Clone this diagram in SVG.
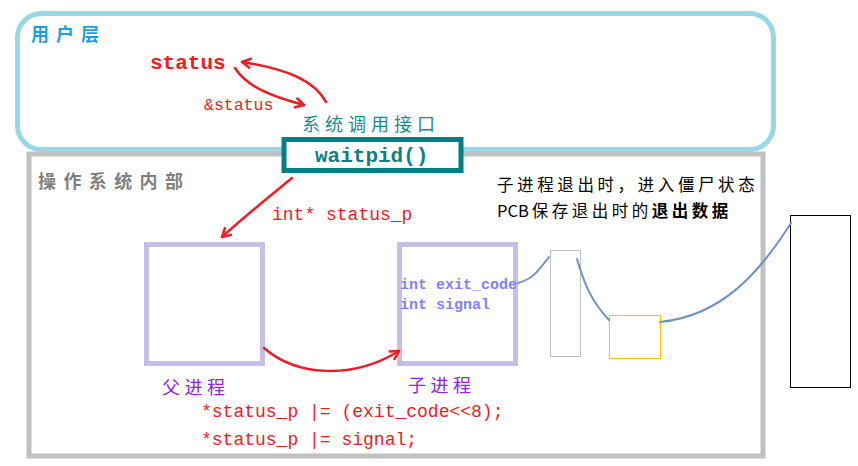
<svg xmlns="http://www.w3.org/2000/svg" width="858" height="466" viewBox="0 0 858 466">
<defs>
<style>
.mono{font-family:"Liberation Mono","DejaVu Sans Mono",monospace}
.cjk{font-family:"Noto Sans CJK SC","Noto Sans CJK JP",sans-serif}
.red{fill:#ee1c24}
.arrow{fill:none;stroke:#ee1c24;stroke-width:2.5;stroke-linecap:round;marker-end:url(#ah)}
.wire{fill:none;stroke:#6f8fc0;stroke-width:2;stroke-linecap:round}
.proc{fill:none;stroke:#c5bee6;stroke-width:5}
</style>
<marker id="ah" viewBox="0 0 12 12" refX="10" refY="6" markerWidth="12" markerHeight="12" markerUnits="userSpaceOnUse" orient="auto">
<path d="M1,1 L10,6 L1,11" fill="none" stroke="#ee1c24" stroke-width="2.5" stroke-linejoin="round"/>
</marker>
</defs>
<rect width="858" height="466" fill="#ffffff"/>
<g id="user-layer">
<rect x="17.5" y="13.5" width="756" height="136" rx="24" fill="none" stroke="#9ad7e6" stroke-width="5"/>
<text x="31" y="41" class="cjk" font-size="18" font-weight="bold" fill="#1e9fdc" letter-spacing="7">用户层</text>
<text x="150" y="69" class="mono red" font-size="21" font-weight="bold">status</text>
<text x="204" y="110" class="mono red" font-size="16.5">&amp;status</text>
</g>
<g id="os-layer">
<rect x="29" y="154" width="734" height="302" fill="none" stroke="#c0c0c0" stroke-width="5"/>
<text x="38" y="188" class="cjk" font-size="18" font-weight="bold" fill="#7f7f7f" letter-spacing="7.4">操作系统内部</text>
</g>
<g id="syscall">
<text x="302" y="131" class="cjk" font-size="18" fill="#1a8a8a" letter-spacing="5">系统调用接口</text>
<rect x="284" y="139.5" width="177" height="31" fill="#ffffff" stroke="#008080" stroke-width="5"/>
<text x="315" y="162" class="mono" font-size="21" font-weight="bold" fill="#0f7f7f">waitpid()</text>
</g>
<g id="parent">
<rect x="146.5" y="244.5" width="116" height="119" class="proc"/>
<text x="162" y="394" class="cjk" font-size="18" fill="#9022e0" letter-spacing="4.5">父进程</text>
</g>
<g id="child">
<rect x="399.5" y="244.5" width="116" height="119" class="proc"/>
<text x="400" y="289" class="mono" font-size="15" font-weight="bold" fill="#8080ff">int exit_code</text>
<text x="400" y="309" class="mono" font-size="15" font-weight="bold" fill="#8080ff">int signal</text>
<text x="408" y="392" class="cjk" font-size="18" fill="#9022e0" letter-spacing="4.5">子进程</text>
</g>
<g id="notes">
<text x="497" y="191" class="cjk" font-size="16.5" fill="#000000" letter-spacing="3.6">子进程退出时，进入僵尸状态</text>
<text x="497" y="217" class="cjk" font-size="16.5" fill="#000000"><tspan letter-spacing="0">PCB</tspan><tspan dx="3" letter-spacing="3.5">保存退出时的</tspan><tspan font-weight="bold" letter-spacing="3.5">退出数据</tspan></text>
<text x="272" y="220" class="mono red" font-size="18">int* status_p</text>
<text x="201" y="417" class="mono red" font-size="18">*status_p |= (exit_code&lt;&lt;8);</text>
<text x="201" y="445" class="mono red" font-size="18">*status_p |= signal;</text>
</g>
<g id="memory">
<rect x="550.5" y="250.5" width="30" height="106" fill="none" stroke="#c0c0c0" stroke-width="1"/>
<rect x="609.5" y="315.5" width="51" height="43" fill="none" stroke="#ffc000" stroke-width="1"/>
<rect x="790.5" y="215.5" width="60" height="172" fill="none" stroke="#000000" stroke-width="1"/>
</g>
<g id="connectors">
<path class="arrow" d="M235,68 C246,86 270,96 304,105"/>
<path class="arrow" d="M326,102 C314,80 286,69 242,62"/>
<path class="arrow" d="M292,178 C270,196 245,216 222,237"/>
<path class="arrow" d="M264,348 C296,376 352,380 399,351"/>
<path class="wire" d="M518,283 C532,279 536,274 549,257"/>
<path class="wire" d="M577,259 C585,286 592,302 609,320"/>
<path class="wire" d="M660,322 C722,316 760,272 791,223"/>
</g>
</svg>
